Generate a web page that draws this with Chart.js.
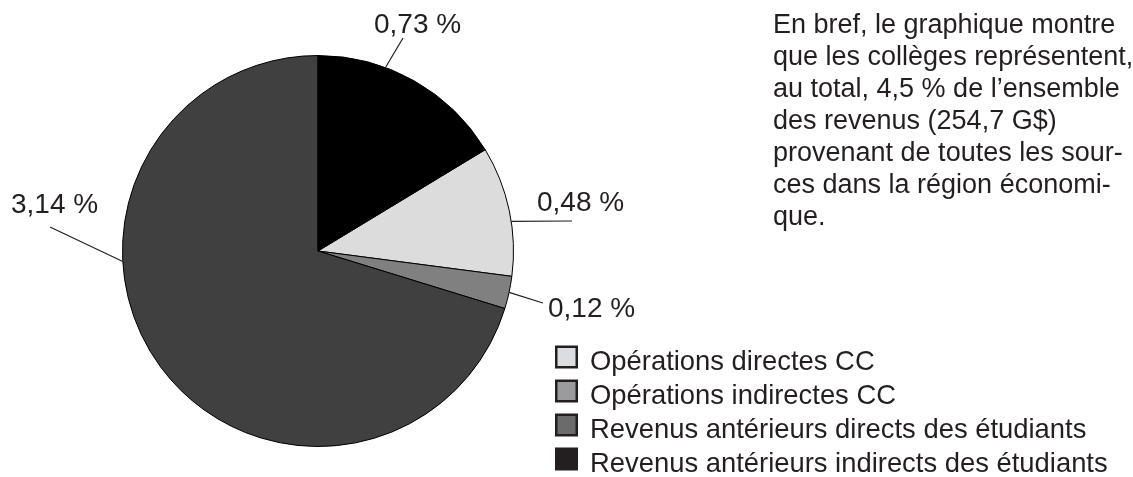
<!DOCTYPE html>
<html>
<head>
<meta charset="utf-8">
<script src="https://cdn.jsdelivr.net/npm/chart.js@4/dist/chart.umd.min.js"></script>
<style>
  html, body { margin: 0; padding: 0; background: #fff; }
  #wrap { width: 1133px; height: 477px; position: relative; }
</style>
</head>
<body>
<div id="wrap"><canvas id="c" width="1133" height="477"></canvas></div>
<script>
const categories = [
  'Opérations directes CC',
  'Opérations indirectes CC',
  'Revenus antérieurs directs des étudiants',
  'Revenus antérieurs indirects des étudiants'
];
const shares = [0.48, 0.12, 3.14, 0.73];
const sliceColors = ['#dcdcdc', '#808080', '#404040', '#000000'];
const legendColors = ['#dcdde0', '#9b9b9d', '#6b6b6b', '#231f20'];
const noteLines = [
  'En bref, le graphique montre',
  'que les collèges représentent,',
  'au total, 4,5 % de l\u2019ensemble',
  'des revenus (254,7 G$)',
  'provenant de toutes les sour-',
  'ces dans la région économi-',
  'que.'
];

const FONT = '"Liberation Sans", Arial, Helvetica, sans-serif';
const TEXT = '#231f20';

// label layout: [anchor angle on rim (deg from top, clockwise), line end x, y, text x, baseline y]
const labelLayout = [
  [81.3, 572, 221, 537, 211],
  [102.2, 543, 303, 548, 317],
  [266.9, 50, 227, 11, 213],
  [20.2, 403, 38, 374, 33]
];

const total = shares.reduce((a, b) => a + b, 0);
const startRotation = shares[shares.length - 1] / total * 360;

const overlay = {
  id: 'overlay',
  afterDraw(chart) {
    const ctx = chart.ctx;
    const arc = chart.getDatasetMeta(0).data[0];
    const cx = arc.x, cy = arc.y, r = arc.outerRadius;
    ctx.save();
    // leader lines and value labels
    ctx.strokeStyle = TEXT;
    ctx.lineWidth = 1.2;
    ctx.fillStyle = TEXT;
    ctx.font = '28px ' + FONT;
    ctx.textBaseline = 'alphabetic';
    ctx.textAlign = 'left';
    shares.forEach((v, i) => {
      const [ang, ex, ey, tx, ty] = labelLayout[i];
      const a = ang * Math.PI / 180;
      const sx = cx + r * Math.sin(a), sy = cy - r * Math.cos(a);
      ctx.beginPath();
      ctx.moveTo(sx, sy);
      ctx.lineTo(ex, ey);
      ctx.stroke();
      ctx.fillText(v.toFixed(2).replace('.', ',') + ' %', tx, ty);
    });
    // note paragraph
    ctx.font = '27px ' + FONT;
    noteLines.forEach((t, i) => ctx.fillText(t, 773, 33 + i * 32));
    // legend
    ctx.font = '27.4px ' + FONT;
    categories.forEach((t, i) => {
      const y = 370 + i * 34;
      ctx.fillStyle = legendColors[i];
      ctx.fillRect(556, y - 23.5, 21, 21);
      ctx.strokeStyle = TEXT;
      ctx.lineWidth = 2.5;
      ctx.strokeRect(556.25, y - 23.25, 20.5, 20.5);
      ctx.fillStyle = TEXT;
      ctx.fillText(t, 590, y);
    });
    ctx.restore();
  }
};

new Chart(document.getElementById('c'), {
  type: 'pie',
  data: {
    labels: categories,
    datasets: [{
      data: shares,
      backgroundColor: sliceColors,
      borderColor: '#000000',
      borderWidth: 1
    }]
  },
  options: {
    responsive: false,
    animation: false,
    rotation: startRotation,
    layout: { padding: { left: 122, top: 55, right: 619, bottom: 30 } },
    plugins: { legend: { display: false }, tooltip: { enabled: false } }
  },
  plugins: [overlay]
});
</script>
</body>
</html>
